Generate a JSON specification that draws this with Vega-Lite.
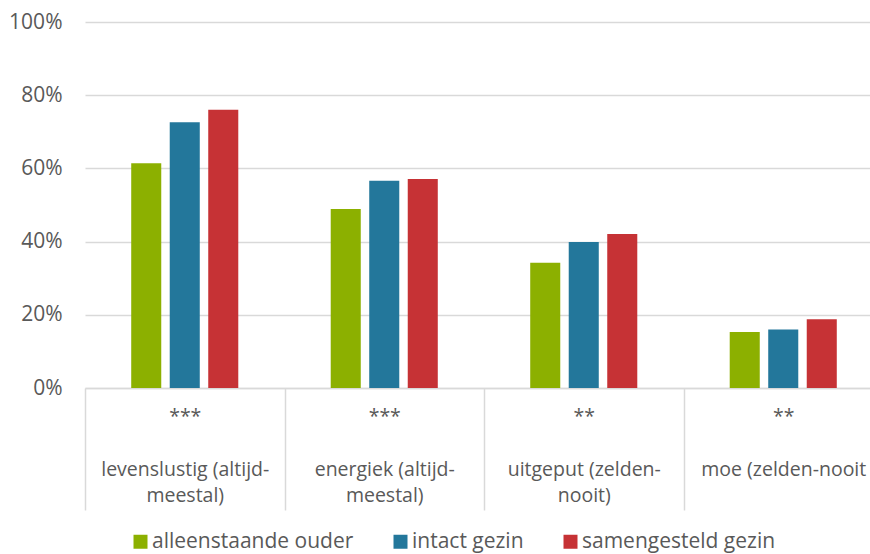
{
  "$schema": "https://vega.github.io/schema/vega-lite/v6.json",
  "autosize": {"type": "none"},
  "padding": {"left": 85, "top": 22, "right": 0, "bottom": 166},
  "width": 798,
  "height": 366,
  "background": "white",
  "config": {
    "view": {"stroke": null},
    "font": "Open Sans",
    "axis": {"labelFont": "Open Sans", "labelColor": "#595959"},
    "legend": {"labelFont": "Open Sans"}
  },
  "data": {
    "values": [
      {"cat": "levenslustig (altijd-meestal)", "groep": "alleenstaande ouder", "pct": 0.614},
      {"cat": "levenslustig (altijd-meestal)", "groep": "intact gezin", "pct": 0.726},
      {"cat": "levenslustig (altijd-meestal)", "groep": "samengesteld gezin", "pct": 0.760},
      {"cat": "energiek (altijd-meestal)", "groep": "alleenstaande ouder", "pct": 0.489},
      {"cat": "energiek (altijd-meestal)", "groep": "intact gezin", "pct": 0.566},
      {"cat": "energiek (altijd-meestal)", "groep": "samengesteld gezin", "pct": 0.571},
      {"cat": "uitgeput (zelden-nooit)", "groep": "alleenstaande ouder", "pct": 0.342},
      {"cat": "uitgeput (zelden-nooit)", "groep": "intact gezin", "pct": 0.399},
      {"cat": "uitgeput (zelden-nooit)", "groep": "samengesteld gezin", "pct": 0.421},
      {"cat": "moe (zelden-nooit)", "groep": "alleenstaande ouder", "pct": 0.153},
      {"cat": "moe (zelden-nooit)", "groep": "intact gezin", "pct": 0.160},
      {"cat": "moe (zelden-nooit)", "groep": "samengesteld gezin", "pct": 0.188}
    ]
  },
  "mark": {"type": "bar"},
  "encoding": {
    "x": {
      "field": "cat", "type": "nominal", "sort": null,
      "scale": {"paddingInner": 0, "paddingOuter": 0},
      "axis": {
        "title": null, "labelAngle": 0,
        "domainColor": "#d9d9d9", "domainWidth": 1.5,
        "tickBand": "extent", "tickSize": 122, "tickColor": "#d9d9d9", "tickWidth": 1.5,
        "labelPadding": -103, "labelFontSize": 19.5, "labelLineHeight": 26.5,
        "labelBaseline": "top", "labelOverlap": false, "labelFlush": false, "labelLimit": 400,
        "labelColor": "#595959",
        "labelExpr": "datum.value == 'levenslustig (altijd-meestal)' ? ['***','\u200b','levenslustig (altijd-','meestal)'] : datum.value == 'energiek (altijd-meestal)' ? ['***','\u200b','energiek (altijd-','meestal)'] : datum.value == 'uitgeput (zelden-nooit)' ? ['**','\u200b','uitgeput (zelden-','nooit)'] : datum.value == 'moe (zelden-nooit)' ? ['**','\u200b','moe (zelden-nooit'] : ''"
      }
    },
    "xOffset": {
      "field": "groep", "type": "nominal",
      "scale": {"domain": ["_links", "alleenstaande ouder", "intact gezin", "samengesteld gezin", "_rechts"], "paddingInner": 0.22, "paddingOuter": 0.2}
    },
    "y": {
      "field": "pct", "type": "quantitative",
      "scale": {"domain": [0, 1]},
      "axis": {
        "title": null, "format": ".0%", "values": [0, 0.2, 0.4, 0.6, 0.8, 1],
        "labelOverlap": false, "labelFlush": false,
        "domain": false, "ticks": false, "labelPadding": 23, "labelFontSize": 21,
        "gridColor": "#d9d9d9", "gridWidth": 1.5
      }
    },
    "color": {
      "field": "groep", "type": "nominal",
      "scale": {"domain": ["alleenstaande ouder", "intact gezin", "samengesteld gezin"], "range": ["#8cb000", "#23779b", "#c63235"]},
      "legend": {
        "title": null, "orient": "none", "direction": "horizontal",
        "legendX": 45, "legendY": 509,
        "symbolType": "square", "symbolSize": 196, "symbolStrokeWidth": 0,
        "labelFontSize": 21, "labelColor": "#595959", "labelOffset": 1, "labelLimit": 400,
        "columnPadding": 36
      }
    }
  }
}
